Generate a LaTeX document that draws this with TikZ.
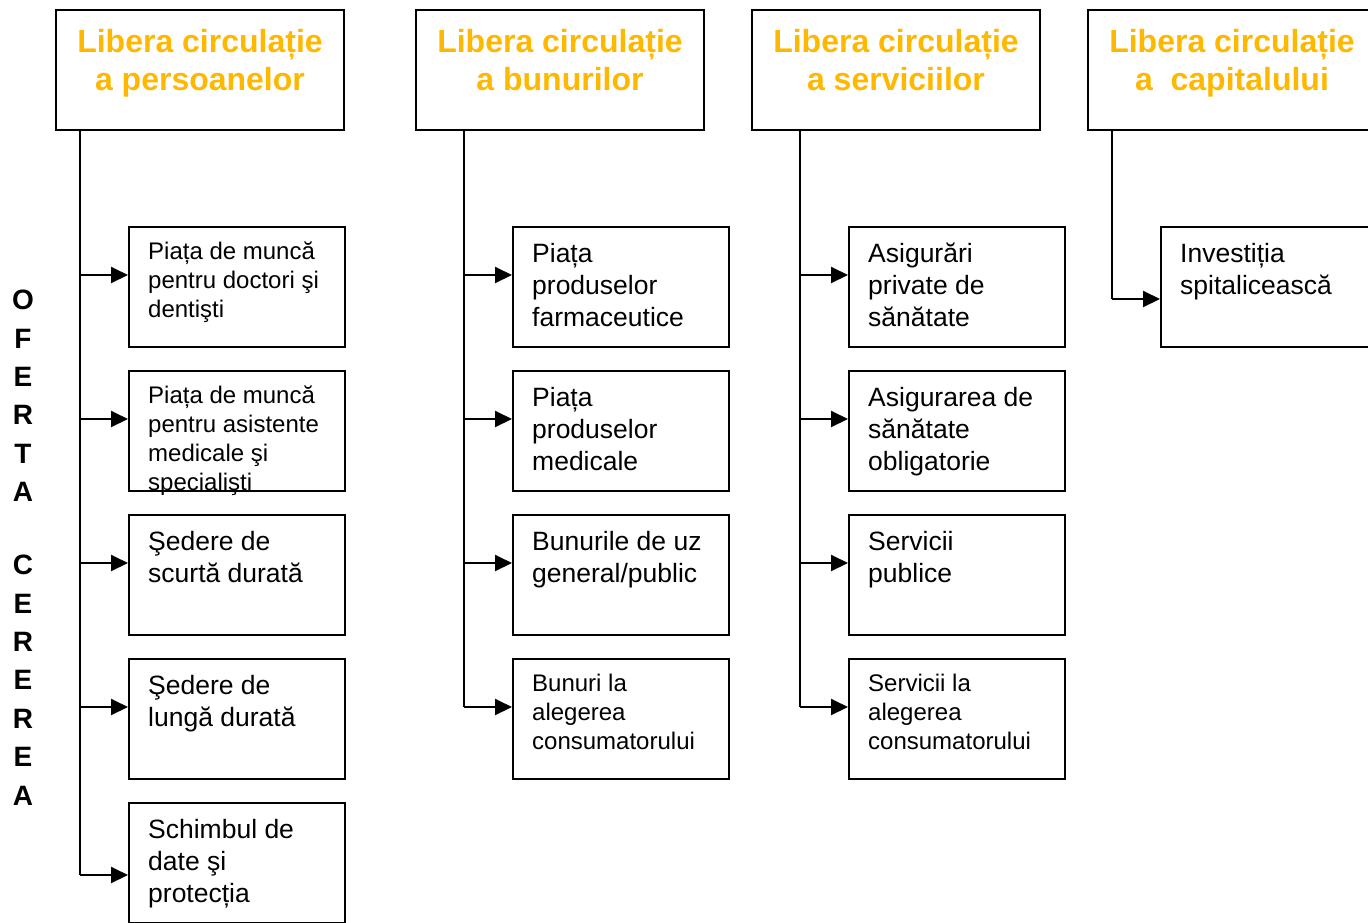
\documentclass[tikz,border=0pt]{standalone}
\usepackage{fontspec}
\setmainfont{Liberation Sans}
\usetikzlibrary{arrows.meta}
\definecolor{hdr}{RGB}{255,184,0}
\begin{document}
\begin{tikzpicture}[x=1pt,y=-1pt,
  lw/.style={line width=2pt},
  hbox/.style={draw,line width=2pt,minimum width=288pt,minimum height=120pt,anchor=north west,inner sep=0pt,outer sep=0pt},
  cbox/.style={draw,line width=2pt,minimum width=216pt,minimum height=120pt,anchor=north west,inner sep=0pt},
  htext/.style={font=\fontsize{32}{38}\selectfont\bfseries,text=hdr,align=center,anchor=base,inner sep=0pt},
  stext/.style={font=\fontsize{24}{29}\selectfont,align=left,anchor=base west,inner sep=0pt},
  mtext/.style={font=\fontsize{26.5}{32}\selectfont,align=left,anchor=base west,inner sep=0pt},
  vtext/.style={font=\fontsize{28}{38.4}\selectfont\bfseries,align=center,anchor=base,inner sep=0pt},
  conn/.style={line width=2pt,-{Triangle[length=17pt,width=16pt]}},
]
\useasboundingbox (0,0) rectangle (1368,922);
% headers
\node[hbox] (h1) at (56,10) {};
\node[hbox] (h2) at (416,10) {};
\node[hbox] (h3) at (752,10) {};
\node[hbox] (h4) at (1088,10) {};
\node[htext] (h1t) at (200,90) {Libera circulație\\a persoanelor};
\node[htext] (h2t) at (560,90) {Libera circulație\\a bunurilor};
\node[htext] (h3t) at (896,90) {Libera circulație\\a serviciilor};
\node[htext] (h4t) at (1232,90) {Libera circulație\\a\ \ capitalului};
% vertical label
\node[vtext] (ofc) at (23,805) {O\\F\\E\\R\\T\\A\\[34.6pt]C\\E\\R\\E\\R\\E\\A};
% column 1
\node[cbox] (c11) at (128,226) {};
\node[cbox] (c12) at (128,370) {};
\node[cbox] (c13) at (128,514) {};
\node[cbox] (c14) at (128,658) {};
\node[cbox] (c15) at (128,802) {};
\node[stext] (c11t) at (148,317) {Piața de muncă\\pentru doctori şi\\dentişti};
\node[stext] (c12t) at (148,490) {Piața de muncă\\pentru asistente\\medicale şi\\specialişti};
\node[mtext] (c13t) at (148,582) {Şedere de\\scurtă durată};
\node[mtext] (c14t) at (148,726) {Şedere de\\lungă durată};
\node[mtext] (c15t) at (148,902) {Schimbul de\\date şi\\protecția};
% column 2
\node[cbox] (c21) at (512,226) {};
\node[cbox] (c22) at (512,370) {};
\node[cbox] (c23) at (512,514) {};
\node[cbox] (c24) at (512,658) {};
\node[mtext] (c21t) at (532,326) {Piața\\produselor\\farmaceutice};
\node[mtext] (c22t) at (532,470) {Piața\\produselor\\medicale};
\node[mtext] (c23t) at (532,582) {Bunurile de uz\\general/public};
\node[stext] (c24t) at (532,749) {Bunuri la\\alegerea\\consumatorului};
% column 3
\node[cbox] (c31) at (848,226) {};
\node[cbox] (c32) at (848,370) {};
\node[cbox] (c33) at (848,514) {};
\node[cbox] (c34) at (848,658) {};
\node[mtext] (c31t) at (868,326) {Asigurări\\private de\\sănătate};
\node[mtext] (c32t) at (868,470) {Asigurarea de\\sănătate\\obligatorie};
\node[mtext] (c33t) at (868,582) {Servicii\\publice};
\node[stext] (c34t) at (868,749) {Servicii la\\alegerea\\consumatorului};
% column 4
\node[cbox] (c41) at (1160,226) {};
\node[mtext] (c41t) at (1180,294) {Investiția\\spitalicească};
% trunks
\coordinate (t1) at ([xshift=24pt]h1.south west);
\coordinate (t2) at ([xshift=48pt]h2.south west);
\coordinate (t3) at ([xshift=48pt]h3.south west);
\coordinate (t4) at ([xshift=24pt]h4.south west);
\foreach \n/\s in {11/12,12/12,13/12,14/12,15/-12}{
  \coordinate (a\n) at ([yshift=\s pt]c\n.west);}
\foreach \n in {21,22,23,24,31,32,33,34}{
  \coordinate (a\n) at ([yshift=12pt]c\n.west);}
\coordinate (a41) at ([yshift=-12pt]c41.west);
\draw[lw] (t1) -- (a15 -| t1);
\draw[lw] (t2) -- (a24 -| t2);
\draw[lw] (t3) -- (a34 -| t3);
\draw[lw] (t4) -- (a41 -| t4);
\foreach \n in {11,12,13,14,15}{\draw[conn] (a\n -| t1) -- (a\n);}
\foreach \n in {21,22,23,24}{\draw[conn] (a\n -| t2) -- (a\n);}
\foreach \n in {31,32,33,34}{\draw[conn] (a\n -| t3) -- (a\n);}
\draw[conn] (a41 -| t4) -- (a41);
\end{tikzpicture}
\end{document}
